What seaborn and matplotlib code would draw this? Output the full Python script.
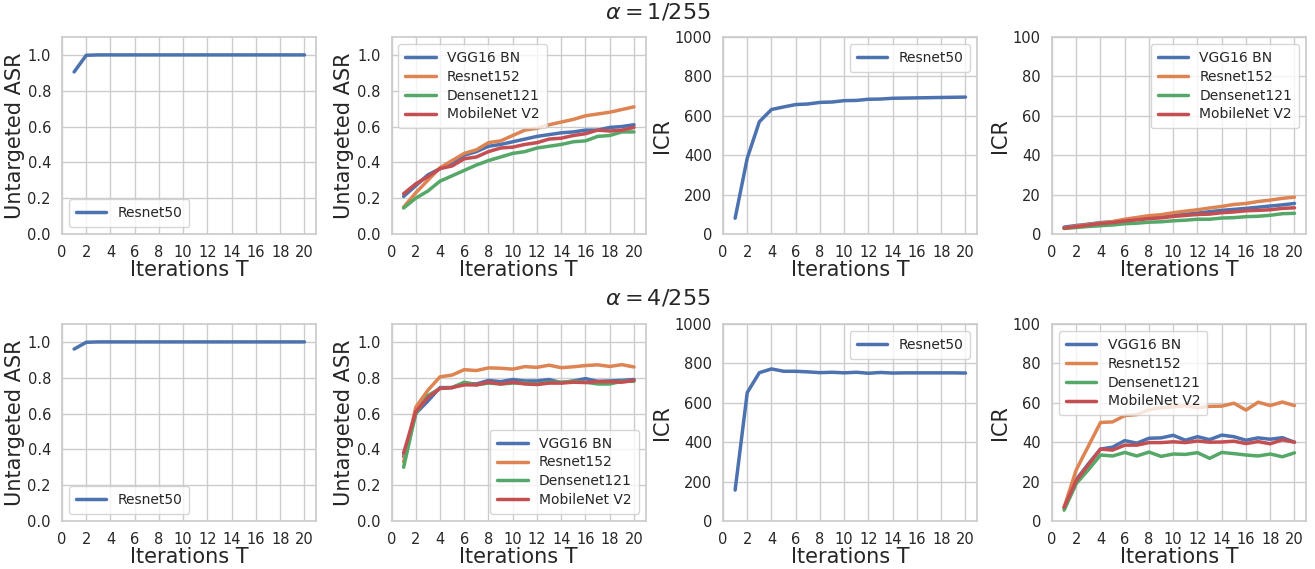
import numpy as np
import pandas as pd
import matplotlib
matplotlib.use("Agg")
import matplotlib.pyplot as plt
import seaborn as sns

# -------------------------------
# Data
# -------------------------------
iterations = list(range(1, 21))
models = ["VGG16 BN", "Resnet152", "Densenet121", "MobileNet V2"]

# alpha = 1/255
asr1_resnet50 = [0.905, 0.998, 1.0, 1.0, 1.0, 1.0, 1.0, 1.0, 1.0, 1.0,
                 1.0, 1.0, 1.0, 1.0, 1.0, 1.0, 1.0, 1.0, 1.0, 1.0]
asr1_vgg16 = [0.21, 0.27, 0.33, 0.365, 0.40, 0.44, 0.46, 0.49, 0.50, 0.515,
              0.53, 0.545, 0.555, 0.565, 0.57, 0.58, 0.58, 0.595, 0.60, 0.61]
asr1_resnet152 = [0.15, 0.23, 0.30, 0.37, 0.41, 0.45, 0.47, 0.51, 0.52, 0.55,
                  0.58, 0.59, 0.61, 0.625, 0.64, 0.66, 0.67, 0.68, 0.695, 0.71]
asr1_densenet = [0.145, 0.20, 0.24, 0.295, 0.325, 0.355, 0.385, 0.41, 0.43, 0.45,
                 0.46, 0.48, 0.49, 0.50, 0.515, 0.52, 0.545, 0.55, 0.57, 0.57]
asr1_mobilenet = [0.225, 0.28, 0.32, 0.365, 0.38, 0.42, 0.43, 0.46, 0.48, 0.485,
                  0.50, 0.51, 0.53, 0.535, 0.55, 0.56, 0.58, 0.575, 0.58, 0.595]
icr1_resnet50 = [80, 385, 570, 632, 645, 657, 660, 668, 670, 677,
                 678, 684, 685, 689, 690, 691, 692, 693, 694, 695]
icr1_vgg16 = [3.5, 4.3, 5.0, 5.8, 6.2, 7.0, 7.5, 8.2, 8.7, 9.5,
              10.0, 10.6, 11.3, 12.0, 12.5, 13.0, 13.6, 14.2, 14.8, 15.5]
icr1_resnet152 = [3.0, 4.0, 4.8, 5.6, 6.3, 7.5, 8.4, 9.3, 9.8, 10.8,
                  11.6, 12.3, 13.2, 14.0, 15.0, 15.5, 16.5, 17.2, 18.1, 18.7]
icr1_densenet = [2.8, 3.3, 3.8, 4.2, 4.6, 5.2, 5.5, 6.0, 6.2, 6.7,
                 7.0, 7.5, 7.5, 8.1, 8.3, 8.8, 9.0, 9.5, 10.3, 10.5]
icr1_mobilenet = [3.0, 3.7, 4.5, 5.3, 5.8, 6.6, 7.2, 7.8, 8.2, 8.9,
                  9.4, 9.9, 10.1, 10.8, 11.2, 11.8, 12.0, 12.3, 13.0, 13.3]

# alpha = 4/255
asr4_resnet50 = [0.96, 0.998, 1.0, 1.0, 1.0, 1.0, 1.0, 1.0, 1.0, 1.0,
                 1.0, 1.0, 1.0, 1.0, 1.0, 1.0, 1.0, 1.0, 1.0, 1.0]
asr4_vgg16 = [0.36, 0.60, 0.67, 0.745, 0.745, 0.77, 0.765, 0.785, 0.778, 0.79,
              0.782, 0.782, 0.79, 0.772, 0.782, 0.795, 0.78, 0.782, 0.785, 0.79]
asr4_resnet152 = [0.33, 0.635, 0.73, 0.805, 0.815, 0.845, 0.84, 0.855, 0.853, 0.848,
                  0.862, 0.858, 0.87, 0.856, 0.861, 0.868, 0.872, 0.863, 0.873, 0.86]
asr4_densenet = [0.30, 0.60, 0.70, 0.74, 0.745, 0.775, 0.76, 0.77, 0.765, 0.77,
                 0.77, 0.765, 0.775, 0.775, 0.78, 0.775, 0.765, 0.765, 0.78, 0.78]
asr4_mobilenet = [0.38, 0.61, 0.69, 0.74, 0.745, 0.76, 0.76, 0.775, 0.765, 0.775,
                  0.765, 0.762, 0.77, 0.77, 0.775, 0.773, 0.778, 0.778, 0.775, 0.785]
icr4_resnet50 = [157, 652, 753, 772, 760, 760, 757, 753, 755, 752,
                 755, 750, 754, 751, 752, 752, 752, 752, 752, 751]
icr4_vgg16 = [6.5, 21.0, 29.0, 36.5, 37.5, 40.8, 39.5, 42.0, 42.2, 43.5,
              41.0, 42.8, 41.3, 43.6, 42.8, 41.0, 42.2, 41.5, 42.3, 40.0]
icr4_resnet152 = [7.0, 26.0, 38.0, 50.0, 50.3, 53.5, 54.0, 56.5, 57.5, 58.0,
                  58.5, 57.5, 58.2, 58.3, 59.8, 56.3, 60.3, 58.6, 60.4, 58.6]
icr4_densenet = [5.5, 19.0, 26.0, 33.5, 33.0, 34.8, 33.0, 35.0, 32.8, 34.0,
                 33.8, 34.7, 31.8, 34.8, 34.2, 33.5, 33.0, 34.0, 32.6, 34.6]
icr4_mobilenet = [7.0, 20.5, 28.5, 36.5, 36.0, 38.5, 38.5, 39.8, 39.8, 40.2,
                  39.8, 40.6, 40.0, 40.1, 40.5, 39.3, 40.3, 39.2, 41.2, 40.0]


def long_df(series_list, names):
    rows = []
    for name, vals in zip(names, series_list):
        for t, v in zip(iterations, vals):
            rows.append({"T": t, "value": v, "model": name})
    return pd.DataFrame(rows)


# -------------------------------
# Style
# -------------------------------
sns.set_theme(style="whitegrid", palette="deep")
plt.rcParams["font.family"] = ["DejaVu Sans"]
plt.rcParams["xtick.labelsize"] = 10.5
plt.rcParams["ytick.labelsize"] = 10.5
plt.rcParams["axes.labelsize"] = 15

fig = plt.figure(figsize=(13.15, 5.69), dpi=100)
W, H = 1315.0, 569.0

col_left = [62, 391.5, 723, 1052]
ax_w = 254
row_top = [37, 324]
ax_h = 197

panels = [
    # (row, col, series, names, ylabel, ylim, yticks, legend loc)
    (0, 0, [asr1_resnet50], ["Resnet50"], "Untargeted ASR", (0, 1.1),
     np.arange(0, 1.01, 0.2), "lower left"),
    (0, 1, [asr1_vgg16, asr1_resnet152, asr1_densenet, asr1_mobilenet], models,
     "Untargeted ASR", (0, 1.1), np.arange(0, 1.01, 0.2), "upper left"),
    (0, 2, [icr1_resnet50], ["Resnet50"], "ICR", (0, 1000),
     range(0, 1001, 200), "upper right"),
    (0, 3, [icr1_vgg16, icr1_resnet152, icr1_densenet, icr1_mobilenet], models,
     "ICR", (0, 100), range(0, 101, 20), "upper right"),
    (1, 0, [asr4_resnet50], ["Resnet50"], "Untargeted ASR", (0, 1.1),
     np.arange(0, 1.01, 0.2), "lower left"),
    (1, 1, [asr4_vgg16, asr4_resnet152, asr4_densenet, asr4_mobilenet], models,
     "Untargeted ASR", (0, 1.1), np.arange(0, 1.01, 0.2), "lower right"),
    (1, 2, [icr4_resnet50], ["Resnet50"], "ICR", (0, 1000),
     range(0, 1001, 200), "upper right"),
    (1, 3, [icr4_vgg16, icr4_resnet152, icr4_densenet, icr4_mobilenet], models,
     "ICR", (0, 100), range(0, 101, 20), "upper left"),
]

for row, col, series, names, ylabel, ylim, yticks, loc in panels:
    left = col_left[col] / W
    bottom = 1 - (row_top[row] + ax_h) / H
    ax = fig.add_axes([left, bottom, ax_w / W, ax_h / H])
    df = long_df(series, names)
    sns.lineplot(data=df, x="T", y="value", hue="model", hue_order=names,
                 palette=sns.color_palette("deep", len(names)),
                 linewidth=2.5, ax=ax)
    ax.set_xticks(range(0, 21, 2))
    ax.set_ylim(*ylim)
    ax.set_yticks(list(yticks))
    if ylim[1] == 1.1:
        ax.set_yticklabels([f"{v:.1f}" for v in yticks])
    ax.set_xlabel("Iterations T", labelpad=0)
    ax.set_ylabel(ylabel, labelpad=2)
    ax.tick_params(axis="both", pad=2)
    ax.legend(loc=loc, fontsize=10, handlelength=2.2, borderpad=0.5,
              labelspacing=0.35)

fig.text(0.5, 1 - 12 / H, r"$\alpha = 1/255$", ha="center", va="center",
         fontsize=16, color="#262626")
fig.text(0.5, 1 - 298 / H, r"$\alpha = 4/255$", ha="center", va="center",
         fontsize=16, color="#262626")

fig.savefig("out.png", dpi=100)
